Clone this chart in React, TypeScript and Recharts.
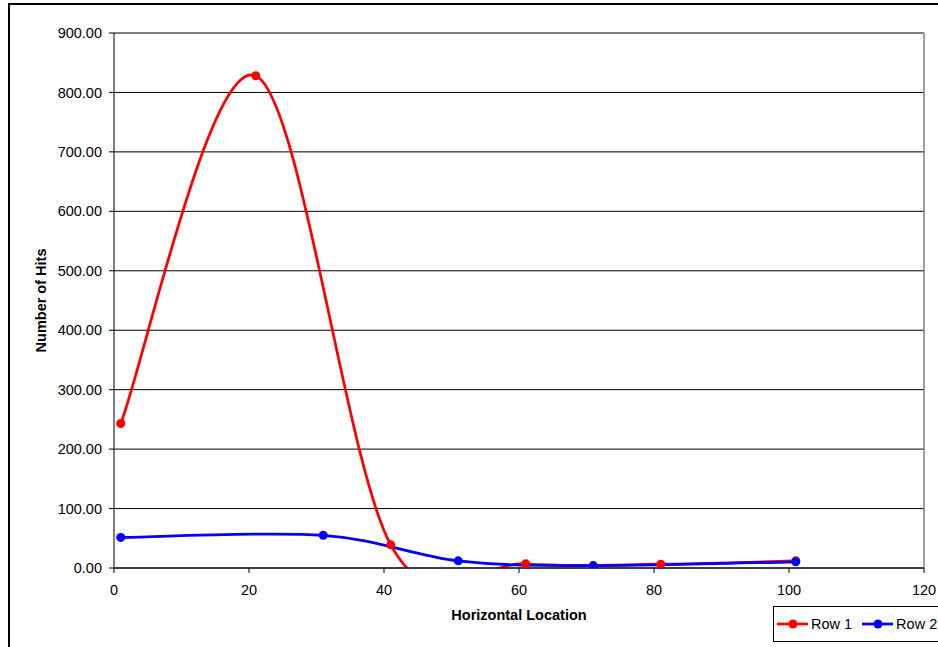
import React from "react";
import {
  LineChart,
  Line,
  XAxis,
  YAxis,
  CartesianGrid,
  ReferenceLine,
  Legend,
} from "recharts";

// Hits per horizontal location, two rows of sensors
const row1Location = [1, 21, 41, 61, 81, 101];
const row1Hits = [243, 828, 39, 7, 6.5, 12];

const row2Location = [1, 31, 51, 71, 101];
const row2Hits = [51.5, 55, 12, 4, 10.5];

const xTicks = [0, 20, 40, 60, 80, 100, 120];
const yTicks = [0, 100, 200, 300, 400, 500, 600, 700, 800, 900];

const row1Data = row1Location.map((x, i) => ({ x, hits: row1Hits[i] }));
const row2Data = row2Location.map((x, i) => ({ x, hits: row2Hits[i] }));

const FONT = "Arial, 'Liberation Sans', sans-serif";

// spreadsheet-style smoothing: cubic bezier with control points at 1/6 of neighbour span
const smoothCurve = (context: any) => {
  let pts: [number, number][] = [];
  return {
    areaStart() {},
    areaEnd() {},
    lineStart() {
      pts = [];
    },
    lineEnd() {
      if (!pts.length) return;
      context.moveTo(pts[0][0], pts[0][1]);
      for (let i = 0; i < pts.length - 1; i++) {
        const p0 = pts[i - 1] || pts[i];
        const p1 = pts[i];
        const p2 = pts[i + 1];
        const p3 = pts[i + 2] || p2;
        context.bezierCurveTo(
          p1[0] + (p2[0] - p0[0]) / 6,
          p1[1] + (p2[1] - p0[1]) / 6,
          p2[0] - (p3[0] - p1[0]) / 6,
          p2[1] - (p3[1] - p1[1]) / 6,
          p2[0],
          p2[1]
        );
      }
    },
    point(x: number, y: number) {
      pts.push([+x, +y]);
    },
  };
};

function LegendBox({ payload }: any) {
  return (
    <div
      style={{
        boxSizing: "border-box",
        width: 200,
        height: 36,
        border: "1px solid #000",
        background: "#fff",
        display: "flex",
        alignItems: "center",
        paddingLeft: 3,
        fontFamily: FONT,
        fontSize: 14.5,
        color: "#000",
        whiteSpace: "nowrap",
      }}
    >
      {(payload || []).map((item: any) => (
        <div key={item.value} style={{ display: "flex", alignItems: "center", marginRight: 10 }}>
          <svg width={31} height={12}>
            <line x1={0} y1={6} x2={31} y2={6} stroke={item.color} strokeWidth={2.75} />
            <circle cx={16} cy={6} r={4.5} fill={item.color} />
          </svg>
          <span style={{ marginLeft: 3 }}>{item.value}</span>
        </div>
      ))}
    </div>
  );
}

const YTitle = ({ viewBox }: any) => {
  const x = viewBox.x + 41;
  const y = viewBox.y + viewBox.height / 2;
  return (
    <text
      x={x}
      y={y}
      transform={`rotate(-90 ${x} ${y})`}
      textAnchor="middle"
      dominantBaseline="central"
      fontFamily={FONT}
      fontSize={14.5}
      fontWeight="bold"
      fill="#000"
    >
      Number of Hits
    </text>
  );
};

export default function App() {
  const tickStyle = { fontFamily: FONT, fontSize: 14.5, fill: "#000" };
  return (
    <div
      style={{
        position: "fixed",
        left: 0,
        top: 0,
        width: 938,
        height: 647,
        overflow: "hidden",
        background: "#fff",
      }}
    >
      <div
        style={{
          position: "absolute",
          left: 8,
          top: 3,
          width: 1000,
          height: 700,
          border: "2px solid #000",
          boxSizing: "border-box",
        }}
      />
      <div style={{ position: "absolute", left: 0, top: 0 }}>
        <LineChart width={938} height={647} margin={{ top: 33, right: 14, bottom: 0, left: 0 }}>
          <CartesianGrid horizontal vertical={false} stroke="#000" strokeWidth={1} />
          <XAxis
            type="number"
            dataKey="x"
            domain={[0, 120]}
            ticks={xTicks}
            height={79}
            stroke="#000"
            tickSize={5}
            tickMargin={12}
            tick={tickStyle}
            label={{
              value: "Horizontal Location",
              position: "insideBottom",
              offset: 27,
              style: { fontFamily: FONT, fontSize: 14.5, fontWeight: "bold", fill: "#000" },
            }}
          />
          <YAxis
            type="number"
            domain={[0, 900]}
            ticks={yTicks}
            allowDataOverflow
            width={114}
            stroke="#000"
            tickSize={5}
            tickMargin={7}
            tick={tickStyle}
            tickFormatter={(v: number) => v.toFixed(2)}
            label={{ content: YTitle }}
          />
          <ReferenceLine y={900} stroke="#808080" strokeWidth={1.5} />
          <ReferenceLine x={120} stroke="#808080" strokeWidth={1.5} />
          <Legend
            layout="horizontal"
            verticalAlign="middle"
            align="center"
            content={<LegendBox />}
            wrapperStyle={{ left: 773, top: 606, right: "auto", width: 200, height: 36 }}
          />
          <Line
            data={row1Data}
            dataKey="hits"
            name="Row 1"
            type={smoothCurve as any}
            stroke="#ff0000"
            strokeWidth={2.75}
            dot={{ r: 4.5, fill: "#ff0000", stroke: "#ff0000", strokeWidth: 0 }}
            activeDot={false}
            isAnimationActive={false}
          />
          <Line
            data={row2Data}
            dataKey="hits"
            name="Row 2"
            type={smoothCurve as any}
            stroke="#0000ff"
            strokeWidth={2.75}
            dot={{ r: 4.5, fill: "#0000ff", stroke: "#0000ff", strokeWidth: 0 }}
            activeDot={false}
            isAnimationActive={false}
          />
        </LineChart>
      </div>
    </div>
  );
}
